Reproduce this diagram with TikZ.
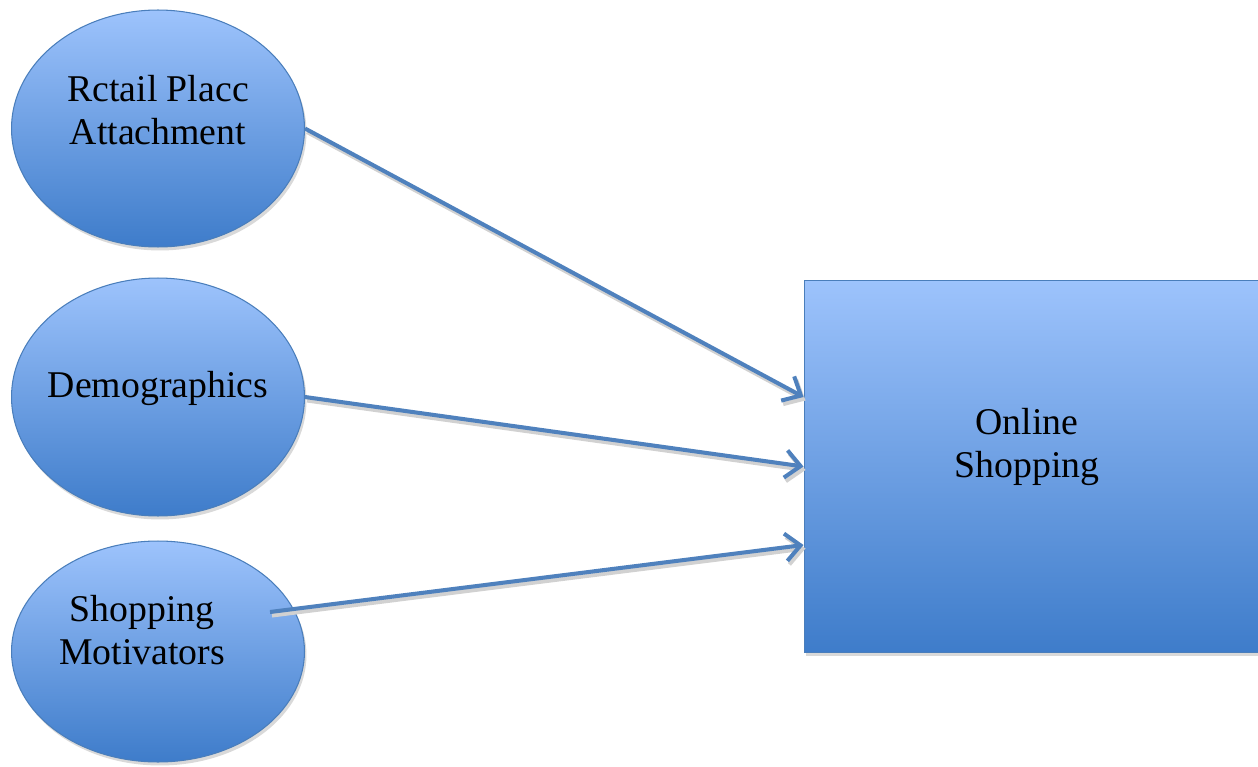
\documentclass[tikz,border=0pt]{standalone}
\usepackage{fontspec}
\setmainfont{Liberation Serif}
\usetikzlibrary{arrows.meta,shadows,calc}
\definecolor{boxtop}{HTML}{9DC3FC}
\definecolor{boxbottom}{HTML}{3E7CCA}
\definecolor{boxline}{HTML}{4A7EBB}
\definecolor{linkblue}{HTML}{4F81BD}
\tikzset{
  blob/.style={ellipse,draw=boxline,line width=0.6pt,top color=boxtop,bottom color=boxbottom,
    drop shadow={shadow xshift=0.04cm,shadow yshift=-0.07cm,fill=black!25,opacity=0.6},
    minimum width=5.86cm,inner sep=0pt},
  bigbox/.style={rectangle,draw=boxline,line width=0.6pt,top color=boxtop,bottom color=boxbottom,
    drop shadow={shadow xshift=0.03cm,shadow yshift=-0.07cm,fill=black!25,opacity=0.6},
    minimum width=9.16cm,minimum height=7.46cm,inner sep=0pt},
  words/.style={align=center,font=\fontsize{21.5}{24.5}\selectfont},
  link/.style={draw=linkblue,line width=2.3pt,-{Straight Barb[length=3mm,width=5.5mm,line width=2.3pt]},
    preaction={draw=black!18,line width=2.3pt,transform canvas={shift={(0.04cm,-0.07cm)}}}}
}
\usetikzlibrary{shapes.geometric}
\begin{document}
\begin{tikzpicture}[x=0.02cm,y=-0.02cm]
  \useasboundingbox (0,0) rectangle (1258,767);
  % left hand ellipses
  \node[blob,minimum height=4.74cm](ret)at(158,128.5){};
  \node[blob,minimum height=4.76cm](dem)at(158,397){};
  \node[blob,minimum height=4.42cm](mot)at(158,651.5){};
  % right hand box
  \node[bigbox](os)at(1033,466.5){};
  % texts
  \node[words](rettext)at(158,110){Rctail Placc\\Attachment};
  \node[words](demtext)at(158,388){Demographics};
  \node[words](mottext)at(142,630){Shopping\\Motivators};
  \node[words](ostext)at(1027,447){Online\\Shopping};
  % arrow ends
  \coordinate(in1)at(os.west|-0,397);
  \coordinate(in3)at(os.west|-0,545);
  \coordinate(out3)at(270,612);
  \draw[link](ret.east)--(in1);
  \draw[link](dem.east)--(os.west);
  \draw[link](out3)--(in3);
\end{tikzpicture}
\end{document}
